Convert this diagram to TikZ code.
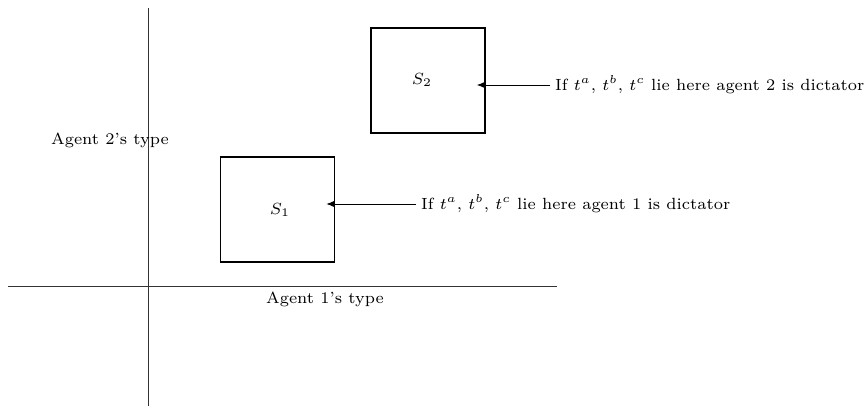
\documentclass[tikz,border=0pt]{standalone}
\usetikzlibrary{positioning, arrows.meta, calc}

\begin{document}
\begin{tikzpicture}[
    x=0.432pt, y=-0.432pt,
    >={Latex[length=1.2mm, width=0.95mm]},
    every node/.style={font=\scriptsize},
    axis/.style={line width=0.4pt, draw=black!80},
    region/.style={
        rectangle, draw, line width=0.7pt,
        minimum width=49.2pt, minimum height=45.4pt, inner sep=0pt,
    },
    note/.style={anchor=west, inner sep=2pt},
    pointer/.style={->, line width=0.4pt},
]
\useasboundingbox (0,0) rectangle (865,406);

% Axes
\coordinate (xl) at (8,286);
\coordinate (xr) at (557,286);
\coordinate (yt) at (148,8);
\coordinate (yb) at (148,406);
\draw[axis] (xl) -- (xr);
\draw[axis] (yt) -- (yb);

\node (xlab) at (325,299) {Agent 1's type};
\node (ylab) at (110,140) {Agent 2's type};

% Dictator regions
\node[region] (s2) at (428,80.5) {};
\node[region] (s1) at (277.5,209.5) {};
\node (s2lab) at (422,80) {$S_2$};
\node (s1lab) at (280,210) {$S_1$};

% Explanations
\node[note] (n2) at (550,85)
    {If $t^a$, $t^b$, $t^c$ lie here agent 2 is dictator};
\node[note] (n1) at (416,204)
    {If $t^a$, $t^b$, $t^c$ lie here agent 1 is dictator};

\coordinate (p2) at ($(s2.east)+(-9,0)$);
\coordinate (p1) at ($(s1.east)+(-9,0)$);
\draw[pointer] (n2.west) -- (n2.west -| p2);
\draw[pointer] (n1.west) -- (n1.west -| p1);

\end{tikzpicture}
\end{document}
